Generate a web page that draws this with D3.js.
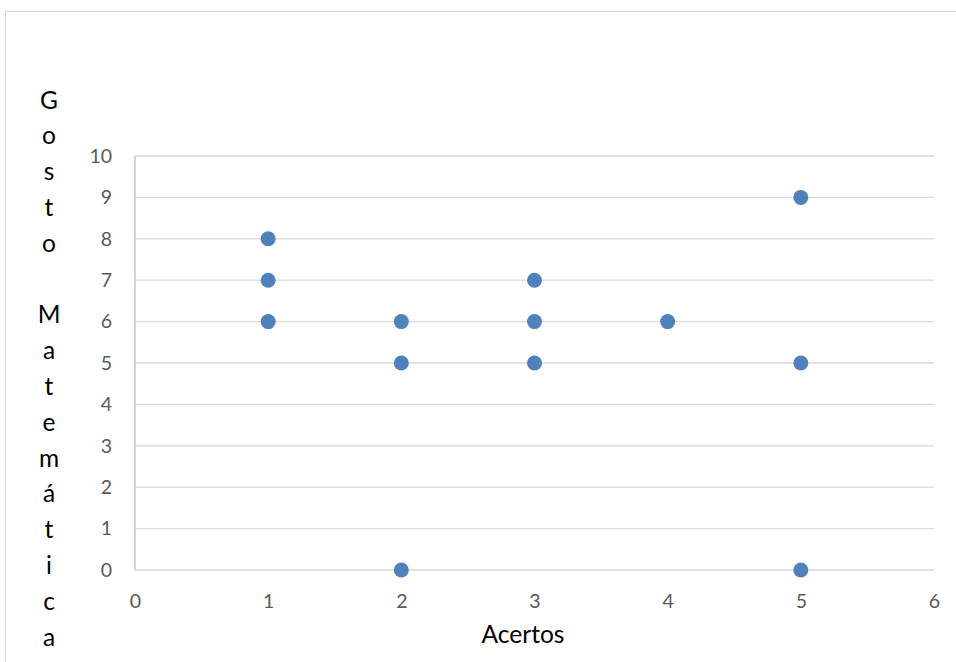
<!DOCTYPE html>
<html><head><meta charset="utf-8">
<script src="https://cdn.jsdelivr.net/npm/d3@7/dist/d3.min.js"></script>
<style>body{margin:0;background:#fff}</style>
</head><body>
<svg id="c" width="956" height="662"></svg>
<script>
const xValues = [1, 1, 1, 2, 2, 2, 3, 3, 3, 4, 5, 5, 5];
const yValues = [8, 7, 6, 6, 5, 0, 7, 6, 5, 6, 9, 5, 0];
const xTicks = [0, 1, 2, 3, 4, 5, 6];
const yTicks = [0, 1, 2, 3, 4, 5, 6, 7, 8, 9, 10];
const xTitle = "Acertos";
const yTitleLetters = ["G","o","s","t","o"," ","M","a","t","e","m","á","t","i","c","a"];

const svg = d3.select("#c");
const font = "Lato, 'Open Sans', sans-serif";
svg.append("rect").attr("x",5.5).attr("y",11.5).attr("width",1000).attr("height",1000)
  .attr("fill","#fff").attr("stroke","#d9d9d9").attr("stroke-width",1);

const x = d3.scaleLinear().domain([0,6]).range([135,934]);
const y = d3.scaleLinear().domain([0,10]).range([570,156]);

svg.append("g").selectAll("line").data(yTicks).join("line")
  .attr("x1",x(0)).attr("x2",x(6)).attr("y1",d=>y(d)).attr("y2",d=>y(d))
  .attr("stroke","#d9d9d9").attr("stroke-width",1.3);
svg.append("line").attr("x1",x(0)).attr("x2",x(0)).attr("y1",y(10)).attr("y2",y(0))
  .attr("stroke","#bfbfbf").attr("stroke-width",1.3);

const yAxis = d3.axisLeft(y).tickValues(yTicks).tickFormat(d3.format("d")).tickSize(0).tickPadding(23);
const gy = svg.append("g").attr("transform",`translate(${x(0)},0)`).call(yAxis);
gy.select(".domain").remove();
gy.selectAll("text").attr("fill","#595959").attr("font-size",19.5).attr("font-family",font);

const xAxis = d3.axisBottom(x).tickValues(xTicks).tickFormat(d3.format("d")).tickSize(0).tickPadding(24);
const gx = svg.append("g").attr("transform",`translate(0,${y(0)})`).call(xAxis);
gx.select(".domain").remove();
gx.selectAll("text").attr("fill","#595959").attr("font-size",19.5).attr("font-family",font);

svg.append("g").selectAll("circle").data(xValues.map((v,i)=>[v,yValues[i]])).join("circle")
  .attr("cx",d=>x(d[0])).attr("cy",d=>y(d[1])).attr("r",7.5).attr("fill","#4f81bd");

svg.append("text").attr("x",523).attr("y",643).attr("text-anchor","middle")
  .attr("font-size",24.5).attr("font-family",font).attr("fill","#000").text(xTitle);

svg.append("g").selectAll("text").data(yTitleLetters).join("text")
  .attr("x",49).attr("y",(d,i)=>100+i*35.8).attr("dy","0.35em")
  .attr("text-anchor","middle").attr("font-size",24.5).attr("font-family",font).attr("fill","#000")
  .text(d=>d);
</script>
</body></html>
